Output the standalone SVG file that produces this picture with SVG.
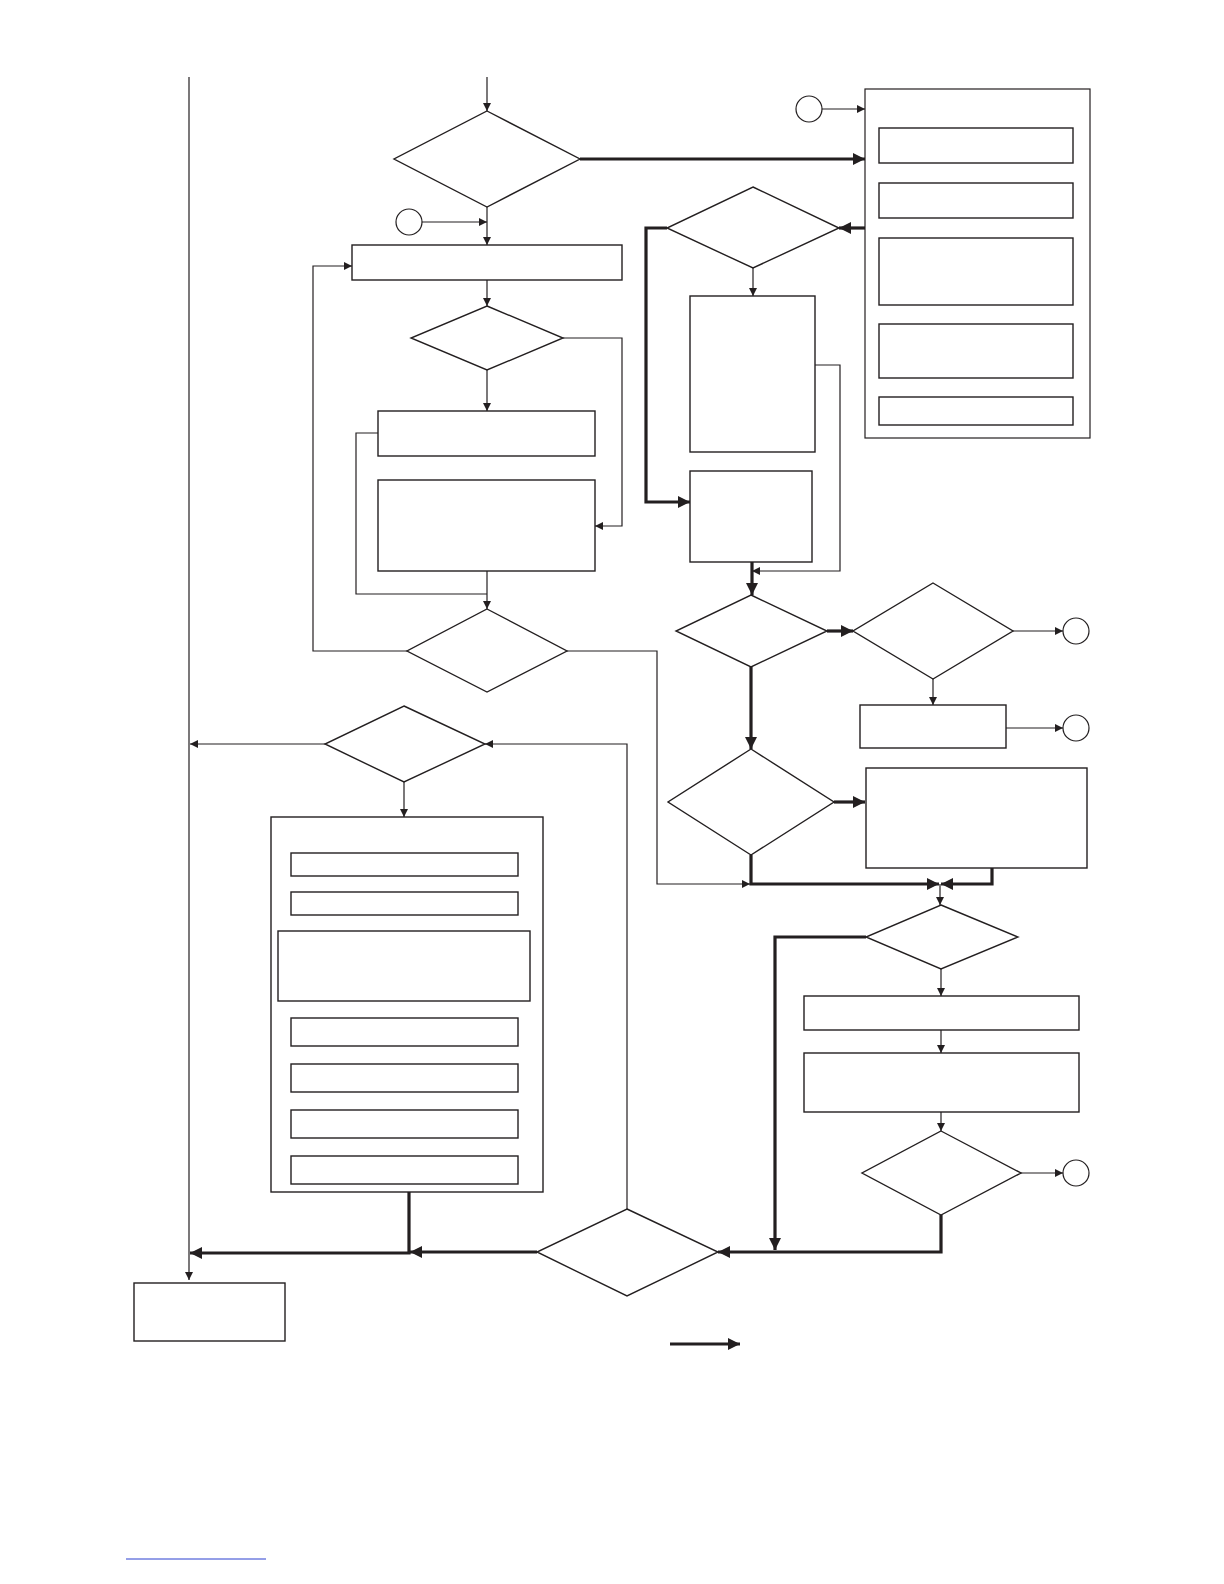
<svg xmlns="http://www.w3.org/2000/svg" width="1224" height="1584" viewBox="0 0 1224 1584">
<style>
.n{fill:#fff;stroke:#231f20;stroke-width:1.4}
.b{fill:#fff;stroke:#231f20;stroke-width:1.2}
.l{fill:none;stroke:#231f20;stroke-width:1.2}
.t{fill:none;stroke:#231f20;stroke-width:3.2}
</style>
<defs>
<marker id="a" viewBox="0 0 10 10" refX="10" refY="5" markerWidth="8" markerHeight="8" markerUnits="userSpaceOnUse" orient="auto"><path d="M0,0L10,5L0,10z" fill="#231f20"/></marker>
<marker id="A" viewBox="0 0 10 10" refX="10" refY="5" markerWidth="14" markerHeight="12" markerUnits="userSpaceOnUse" orient="auto"><path d="M0,0L10,5L0,10z" fill="#231f20"/></marker>
</defs>
<rect width="1224" height="1584" fill="#fff"/>
<g id="connectors">
<path class="l" d="M189,77V1280" marker-end="url(#a)"/>
<path class="l" d="M487,77V111" marker-end="url(#a)"/>
<path class="t" d="M580,159H865" marker-end="url(#A)"/>
<path class="l" d="M822,109H865" marker-end="url(#a)"/>
<path class="l" d="M976,163V183M976,218V238M976,305V324M976,378V397" />
<path class="l" d="M976,170V183" marker-end="url(#a)"/>
<path class="l" d="M976,225V238" marker-end="url(#a)"/>
<path class="l" d="M976,312V324" marker-end="url(#a)"/>
<path class="l" d="M976,385V397" marker-end="url(#a)"/>
<path class="t" d="M865,228H839" marker-end="url(#A)"/>
<path class="t" d="M667,228H646V502H690" marker-end="url(#A)"/>
<path class="l" d="M753,268V296" marker-end="url(#a)"/>
<path class="l" d="M815,365H840V571H752" marker-end="url(#a)"/>
<path class="t" d="M752,562V595" marker-end="url(#A)"/>
<path class="l" d="M422,222H487" marker-end="url(#a)"/>
<path class="l" d="M487,207V245" marker-end="url(#a)"/>
<path class="l" d="M487,280V306" marker-end="url(#a)"/>
<path class="l" d="M563,338H622V526H595" marker-end="url(#a)"/>
<path class="l" d="M487,370V411" marker-end="url(#a)"/>
<path class="l" d="M378,433H356V594H487" />
<path class="l" d="M487,571V609" marker-end="url(#a)"/>
<path class="l" d="M407,651H313V266H352" marker-end="url(#a)"/>
<path class="l" d="M567,651H657V884H750" marker-end="url(#a)"/>
<path class="t" d="M827,631H853" marker-end="url(#A)"/>
<path class="l" d="M1013,631H1063" marker-end="url(#a)"/>
<path class="l" d="M933,679V705" marker-end="url(#a)"/>
<path class="l" d="M1006,728H1063" marker-end="url(#a)"/>
<path class="t" d="M751,667V749" marker-end="url(#A)"/>
<path class="t" d="M834,802H865" marker-end="url(#A)"/>
<path class="t" d="M751,855V884H939" marker-end="url(#A)"/>
<path class="t" d="M992,868V884H941" marker-end="url(#A)"/>
<path class="l" d="M940,884V905" marker-end="url(#a)"/>
<path class="t" d="M866,937H775V1250" marker-end="url(#A)"/>
<path class="l" d="M941,969V996" marker-end="url(#a)"/>
<path class="l" d="M941,1030V1053" marker-end="url(#a)"/>
<path class="l" d="M941,1112V1131" marker-end="url(#a)"/>
<path class="l" d="M1021,1173H1063" marker-end="url(#a)"/>
<path class="t" d="M941,1215V1252H718" marker-end="url(#A)"/>
<path class="l" d="M627,1209V744H485" marker-end="url(#a)"/>
<path class="t" d="M537,1252H410" marker-end="url(#A)"/>
<path class="t" d="M409,1192V1253H190" marker-end="url(#A)"/>
<path class="l" d="M325,744H190" marker-end="url(#a)"/>
<path class="l" d="M404,782V817" marker-end="url(#a)"/>
<path class="l" d="M404,876V892" marker-end="url(#a)"/>
<path class="l" d="M404,915V931" marker-end="url(#a)"/>
<path class="l" d="M404,1001V1018" marker-end="url(#a)"/>
<path class="l" d="M404,1046V1064" marker-end="url(#a)"/>
<path class="l" d="M404,1092V1110" marker-end="url(#a)"/>
<path class="l" d="M404,1138V1156" marker-end="url(#a)"/>
<path class="t" d="M670,1344H740" marker-end="url(#A)"/>
</g>
<g id="D1"><polygon class="n" points="487,111 580,159 487,207 394,159"/></g>
<g id="C1"><circle class="b" cx="809" cy="109" r="13"/></g>
<g id="R1"><rect class="b" x="865" y="89" width="225" height="349"/>
<rect class="n" x="879" y="128" width="194" height="35"/>
<rect class="n" x="879" y="183" width="194" height="35"/>
<rect class="n" x="879" y="238" width="194" height="67"/>
<rect class="n" x="879" y="324" width="194" height="54"/>
<rect class="n" x="879" y="397" width="194" height="28"/></g>
<g id="D2"><polygon class="n" points="753,187 839,228 753,268 667,228"/></g>
<g id="B1"><rect class="n" x="690" y="296" width="125" height="156"/></g>
<g id="B2"><rect class="n" x="690" y="471" width="122" height="91"/></g>
<g id="C2"><circle class="b" cx="409" cy="222" r="13"/></g>
<g id="B3"><rect class="n" x="352" y="245" width="270" height="35"/></g>
<g id="D4"><polygon class="n" points="487,306 563,338 487,370 411,338"/></g>
<g id="B4"><rect class="n" x="378" y="411" width="217" height="45"/></g>
<g id="B5"><rect class="n" x="378" y="480" width="217" height="91"/></g>
<g id="D5"><polygon class="n" points="487,609 567,651 487,692 407,651"/></g>
<g id="D3"><polygon class="n" points="751,595 827,631 751,667 676,631"/></g>
<g id="D6"><polygon class="n" points="933,583 1013,631 933,679 853,631"/></g>
<g id="C3"><circle class="b" cx="1076" cy="631" r="13"/></g>
<g id="B6"><rect class="n" x="860" y="705" width="146" height="43"/></g>
<g id="C4"><circle class="b" cx="1076" cy="728" r="13"/></g>
<g id="D7"><polygon class="n" points="751,749 834,802 751,855 668,802"/></g>
<g id="B7"><rect class="n" x="866" y="768" width="221" height="100"/></g>
<g id="D8"><polygon class="n" points="941,905 1018,937 941,969 866,937"/></g>
<g id="B8"><rect class="n" x="804" y="996" width="275" height="34"/></g>
<g id="B9"><rect class="n" x="804" y="1053" width="275" height="59"/></g>
<g id="D9"><polygon class="n" points="941,1131 1021,1173 941,1215 862,1173"/></g>
<g id="C5"><circle class="b" cx="1076" cy="1173" r="13"/></g>
<g id="D10"><polygon class="n" points="627,1209 718,1252 627,1296 537,1252"/></g>
<g id="D11"><polygon class="n" points="404,706 485,744 404,782 325,744"/></g>
<g id="R2"><rect class="n" x="271" y="817" width="272" height="375"/>
<rect class="n" x="291" y="853" width="227" height="23"/>
<rect class="n" x="291" y="892" width="227" height="23"/>
<rect class="n" x="278" y="931" width="252" height="70"/>
<rect class="n" x="291" y="1018" width="227" height="28"/>
<rect class="n" x="291" y="1064" width="227" height="28"/>
<rect class="n" x="291" y="1110" width="227" height="28"/>
<rect class="n" x="291" y="1156" width="227" height="28"/></g>
<g id="END"><rect class="n" x="134" y="1283" width="151" height="58"/></g>
<line x1="126" y1="1559" x2="266" y2="1559" stroke="#2a3fd0" stroke-width="1"/>
</svg>
